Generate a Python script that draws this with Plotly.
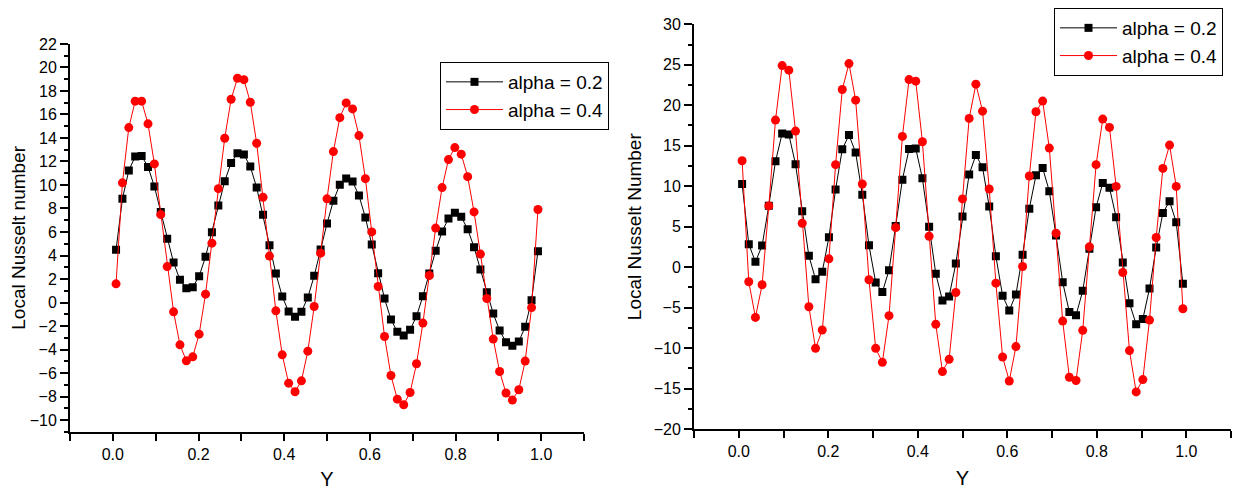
import plotly.graph_objects as go

# Sampling positions along Y (shared by all four series)
y_pos = [0.0075, 0.0224, 0.0373, 0.0522, 0.0672, 0.0821, 0.0970, 0.1119, 0.1269, 0.1418,
         0.1567, 0.1716, 0.1866, 0.2015, 0.2164, 0.2313, 0.2463, 0.2612, 0.2761, 0.2910,
         0.3060, 0.3209, 0.3358, 0.3507, 0.3657, 0.3806, 0.3955, 0.4104, 0.4254, 0.4403,
         0.4552, 0.4701, 0.4851, 0.5000, 0.5149, 0.5299, 0.5448, 0.5597, 0.5746, 0.5896,
         0.6045, 0.6194, 0.6343, 0.6493, 0.6642, 0.6791, 0.6940, 0.7090, 0.7239, 0.7388,
         0.7537, 0.7687, 0.7836, 0.7985, 0.8134, 0.8284, 0.8433, 0.8582, 0.8731, 0.8881,
         0.9030, 0.9179, 0.9328, 0.9478, 0.9627, 0.9776, 0.9925]

# Left panel: Local Nusselt number
left_a02 = [4.48, 8.82, 11.23, 12.42, 12.47, 11.54, 9.87, 7.71, 5.42, 3.40,
            1.93, 1.22, 1.31, 2.24, 3.89, 5.98, 8.25, 10.32, 11.88, 12.70,
            12.59, 11.57, 9.78, 7.46, 4.88, 2.47, 0.51, -0.77, -1.22, -0.79,
            0.43, 2.27, 4.51, 6.72, 8.65, 10.03, 10.55, 10.29, 9.10, 7.23,
            4.93, 2.50, 0.34, -1.44, -2.49, -2.80, -2.32, -1.16, 0.54, 2.47,
            4.40, 6.04, 7.14, 7.63, 7.29, 6.24, 4.71, 2.81, 0.88, -0.94,
            -2.38, -3.37, -3.68, -3.32, -2.07, 0.20, 4.37]
left_a04 = [1.59, 10.18, 14.88, 17.13, 17.13, 15.20, 11.79, 7.48, 3.06, -0.79,
            -3.60, -4.96, -4.62, -2.69, 0.71, 5.05, 9.69, 13.98, 17.29, 19.08,
            18.96, 17.04, 13.55, 8.96, 3.95, -0.71, -4.45, -6.86, -7.59, -6.66,
            -4.14, -0.34, 4.20, 8.82, 12.84, 15.73, 16.98, 16.47, 14.20, 10.54,
            6.01, 1.36, -2.89, -6.21, -8.22, -8.70, -7.65, -5.21, -1.75, 2.30,
            6.33, 9.78, 12.16, 13.18, 12.62, 10.71, 7.71, 4.12, 0.34, -3.11,
            -5.87, -7.70, -8.30, -7.42, -4.98, -0.43, 7.91]

# Right panel: Local Nusselt Number
right_a02 = [10.28, 2.84, 0.66, 2.67, 7.60, 13.07, 16.52, 16.39, 12.70, 6.90,
             1.40, -1.48, -0.57, 3.70, 9.58, 14.55, 16.32, 14.17, 8.96, 2.71,
             -1.89, -3.08, -0.37, 5.10, 10.81, 14.59, 14.67, 10.97, 4.98, -0.81,
             -4.10, -3.61, 0.45, 6.27, 11.46, 13.85, 12.33, 7.48, 1.36, -3.53,
             -5.34, -3.37, 1.53, 7.23, 11.34, 12.25, 9.37, 3.91, -1.85, -5.55,
             -5.95, -2.91, 2.27, 7.40, 10.40, 9.82, 6.16, 0.58, -4.44, -7.06,
             -6.41, -2.63, 2.43, 6.70, 8.13, 5.55, -2.05]
right_a04 = [13.15, -1.80, -6.20, -2.17, 7.57, 18.17, 24.90, 24.33, 16.81, 5.42,
             -4.88, -10.02, -7.76, 1.03, 12.66, 21.94, 25.14, 20.63, 10.28, -1.55,
             -10.02, -11.75, -5.99, 4.89, 16.15, 23.17, 22.97, 15.49, 3.82, -7.06,
             -12.89, -11.38, -3.12, 8.43, 18.37, 22.60, 19.27, 9.66, -1.97, -11.09,
             -14.05, -9.81, 0.09, 11.26, 19.19, 20.51, 14.71, 4.19, -6.66, -13.59,
             -14.00, -7.80, 2.51, 12.66, 18.29, 17.26, 9.98, -0.65, -10.30, -15.40,
             -13.88, -6.53, 3.66, 12.20, 15.08, 9.98, -5.13]

series_names = ["alpha = 0.2", "alpha = 0.4"]

FONT = "Arial, 'Liberation Sans', Helvetica, sans-serif"

fig = go.Figure()

def add_pair(xa, ya, s02, s04, legend):
    fig.add_trace(go.Scatter(
        x=y_pos, y=s02, name=series_names[0], mode="lines+markers",
        xaxis=xa, yaxis=ya, legend=legend,
        line=dict(color="black", width=1),
        marker=dict(symbol="square", size=8, color="black", line=dict(width=0))))
    fig.add_trace(go.Scatter(
        x=y_pos, y=s04, name=series_names[1], mode="lines+markers",
        xaxis=xa, yaxis=ya, legend=legend,
        line=dict(color="#ff0000", width=1),
        marker=dict(symbol="circle", size=9, color="#ff0000", line=dict(width=0))))

add_pair("x", "y", left_a02, left_a04, "legend")
add_pair("x2", "y2", right_a02, right_a04, "legend2")

# The page body adds an 8px margin, so the figure is laid out 8px smaller
OFF = 8
W, H = 1240 - OFF, 490 - OFF

def xaxis_cfg(d0, d1, anchor):
    return dict(
        domain=[(d0 - OFF) / W, (d1 - OFF) / W], anchor=anchor, range=[-0.1, 1.1],
        tick0=0, dtick=0.2, tickformat=".1f",
        showline=True, linecolor="black", linewidth=2,
        ticks="outside", ticklen=7, tickwidth=2, tickcolor="black",
        minor=dict(dtick=0.1, tick0=0, ticks="outside", ticklen=7, tickwidth=2, tickcolor="black"),
        showgrid=False, zeroline=False, automargin=False,
        tickfont=dict(family=FONT, size=16, color="black"),
        title=dict(text="Y", font=dict(family=FONT, size=20, color="black"), standoff=12),
    )

def yaxis_cfg(top, bottom, anchor, rng, dt, mdt, title, standoff):
    return dict(
        domain=[(H - (bottom - OFF)) / H, (H - (top - OFF)) / H], anchor=anchor, range=rng,
        dtick=dt, tick0=0,
        showline=True, linecolor="black", linewidth=2,
        ticks="outside", ticklen=8, tickwidth=2, tickcolor="black",
        minor=dict(dtick=mdt, ticks="outside", ticklen=4, tickwidth=2, tickcolor="black"),
        showgrid=False, zeroline=False, automargin=False,
        tickfont=dict(family=FONT, size=16, color="black"),
        title=dict(text=title, font=dict(family=FONT, size=19, color="black"), standoff=standoff),
    )

legend_common = dict(
    xanchor="left", yanchor="top",
    bordercolor="black", borderwidth=1, bgcolor="white",
    font=dict(family=FONT, size=19, color="black"),
    itemwidth=57, tracegroupgap=0,
)

fig.update_layout(
    width=W, height=H, template="none",
    paper_bgcolor="white", plot_bgcolor="white",
    margin=dict(l=0, r=0, t=0, b=0),
    showlegend=True,
    xaxis=xaxis_cfg(70, 584, "y"),
    yaxis=yaxis_cfg(43, 431.7, "x", [-11, 22], 2, 1, "Local Nusselt number", 5),
    xaxis2=xaxis_cfg(694, 1231, "y2"),
    yaxis2=yaxis_cfg(23.3, 429, "x2", [-20, 30], 5, 2.5, "Local Nusselt Number", 7),
    legend=dict(x=(440 - OFF) / W, y=1 - (62 - OFF) / H, **legend_common),
    legend2=dict(x=(1054 - OFF) / W, y=1 - (7 - OFF) / H, **legend_common),
)

fig.write_html("out.html")
